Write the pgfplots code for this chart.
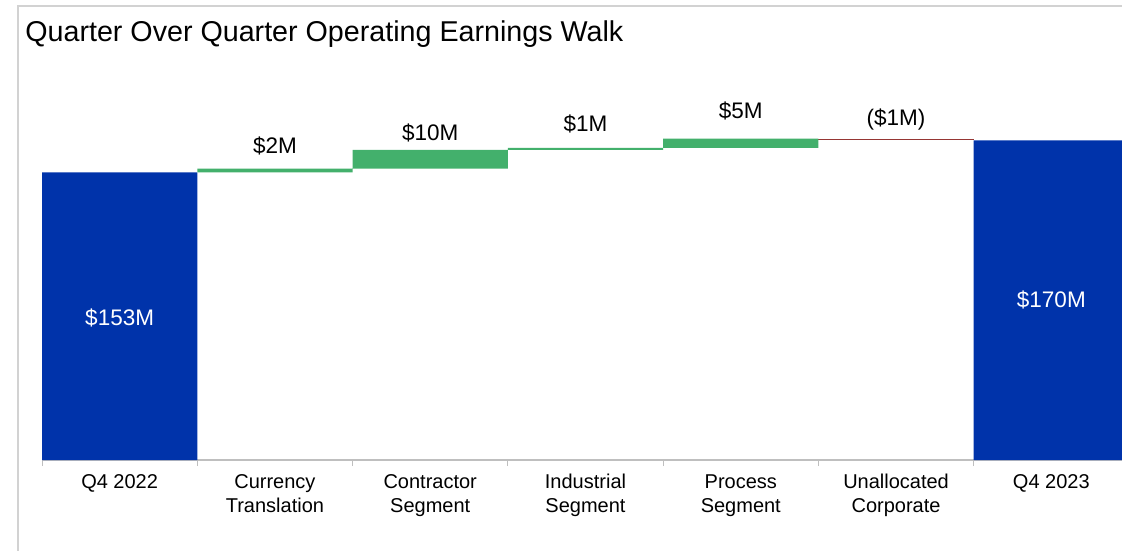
\documentclass[border=0pt]{standalone}
\usepackage{fontspec}
\setmainfont{Liberation Sans}
\usepackage{pgfplots}
\pgfplotsset{compat=1.18}
\definecolor{totblue}{RGB}{0,51,170}
\definecolor{upgreen}{RGB}{67,176,108}
\definecolor{downred}{RGB}{150,54,52}
\definecolor{framegray}{RGB}{210,210,210}
\definecolor{axisgray}{RGB}{191,191,191}
\tikzset{lbl/.style={anchor=base, font=\fontsize{13.5}{16}\selectfont}}
\begin{document}
\begin{tikzpicture}
% 1 px of the reference = 0.6pt
\draw[framegray, line width=0.9pt] (10.8pt,-12pt) |- (684pt,326.4pt);
\node[anchor=base west, inner sep=0, font=\fontsize{17.2}{20}\selectfont] at (15pt,304.8pt) {Quarter Over Quarter Operating Earnings Walk};
\begin{axis}[
  at={(25.2pt,54pt)}, anchor=south west, scale only axis,
  width=652.2pt, height=225.6pt,
  ybar stacked, bar width=1,
  xmin=-0.5, xmax=6.5, ymin=0, ymax=200,
  axis y line=none, axis x line*=bottom,
  x axis line style={axisgray, line width=0.8pt},
  xtick={0,...,6},
  xticklabels={Q4 2022, Currency\\Translation, Contractor\\Segment, Industrial\\Segment, Process\\Segment, Unallocated\\Corporate, Q4 2023},
  major tick length=0pt,
  minor xtick={-0.5,0.5,...,6.5},
  minor tick length=3.6pt, tick align=outside,
  minor x tick style={axisgray, line width=0.6pt},
  xticklabel style={font=\fontsize{12}{14.4}\selectfont, align=center, anchor=north, yshift=-5.1pt},
  clip=false,
]
% invisible base of each floating bar
\addplot[fill=none, draw=none] coordinates {(0,0) (1,153) (2,155) (3,165) (4,166) (5,170) (6,0)};
% increases
\addplot[fill=upgreen, draw=none] coordinates {(0,0) (1,2) (2,10) (3,1) (4,5) (5,0) (6,0)};
% decreases
\addplot[fill=downred, draw=none] coordinates {(0,0) (1,0) (2,0) (3,0) (4,0) (5,1) (6,0)};
% totals
\addplot[fill=totblue, draw=none] coordinates {(0,153) (1,0) (2,0) (3,0) (4,0) (5,0) (6,170)};

\node[lbl] at (axis cs:1,163.3) {\$2M};
\node[lbl] at (axis cs:2,169.9) {\$10M};
\node[lbl] at (axis cs:3,174.5) {\$1M};
\node[lbl] at (axis cs:4,181.4) {\$5M};
\node[lbl] at (axis cs:5,177.7) {(\$1M)};
\coordinate (t0) at (axis cs:0,71.8);
\coordinate (t6) at (axis cs:6,80.9);
\end{axis}
% totals' labels go over the bars
\node[lbl, text=white] at (t0) {\$153M};
\node[lbl, text=white] at (t6) {\$170M};
\pgfresetboundingbox
\path[use as bounding box] (0,0) rectangle (673.2pt,330pt);
\end{tikzpicture}
\end{document}
